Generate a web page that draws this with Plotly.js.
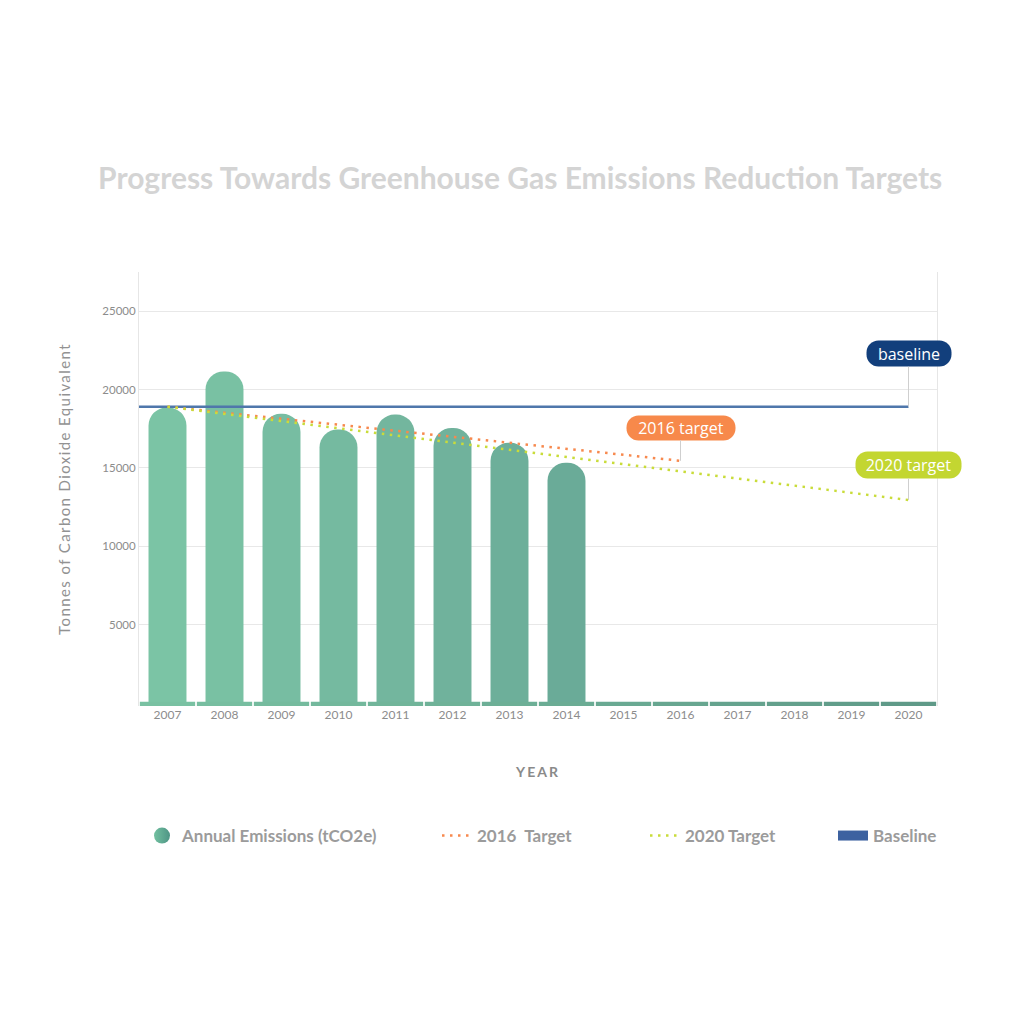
<!DOCTYPE html>
<html><head><meta charset="utf-8">
<script src="https://cdn.plot.ly/plotly-3.0.1.min.js"></script>
<style>
html,body{margin:0;padding:0;background:#fff;}
#chart{width:1024px;height:1013px;}
.ytitle{letter-spacing:1.4px;}
.xtitle{letter-spacing:2px;}
.annotation rect.bg{rx:12px;ry:12px;}
</style></head><body><div id="chart"></div>
<script>
// ---- data ----
const years = [2007,2008,2009,2010,2011,2012,2013,2014,2015,2016,2017,2018,2019,2020];
const emissionYears = [2007,2008,2009,2010,2011,2012,2013,2014];
const emissions = [18850,21150,18450,17450,18400,17550,16600,15330];
const baselineYears = [2006.5,2020];
const baselineValues = [18900,18900];
const target2016Years = [2007,2016];
const target2016Values = [18900,15450];
const target2020Years = [2007,2020];
const target2020Values = [18900,12950];
const stripHeights = [270,270,270,270,270,270,270,270,270,270,270,270,270,270];
const stripBase = -200;
const yTicks = [5000,10000,15000,20000,25000];

const barColors = ['#7bc4a5','#79c1a3','#77bda2','#75baa0','#73b69e','#70b29c','#6daf9a','#6aab98'];
const stripColors = ['#79c1a2','#77bea0','#75bb9e','#73b89c','#71b59a','#6fb298','#6daf96','#6bac94','#69a992','#67a690','#65a38e','#63a08c','#619d8a','#5f9a88'];

const dotDash = '2.5px,5.5px';

const traces = [
  {type:'bar', x:emissionYears, y:emissions, width:0.666,
   marker:{color:barColors, cornerradius:'50%'}, showlegend:false, hoverinfo:'skip'},
  {type:'bar', x:years, y:stripHeights, base:stripBase, width:0.97,
   marker:{color:stripColors}, showlegend:false, hoverinfo:'skip'},
  {type:'scatter', mode:'lines', x:baselineYears, y:baselineValues,
   line:{color:'#4f77ab', width:2.5}, showlegend:false, hoverinfo:'skip'},
  {type:'scatter', mode:'lines', x:target2016Years, y:target2016Values,
   line:{color:'#f7894e', width:2.5, dash:dotDash}, showlegend:false, hoverinfo:'skip'},
  {type:'scatter', mode:'lines', x:target2020Years, y:target2020Values,
   line:{color:'#c9dc3a', width:2.5, dash:dotDash}, showlegend:false, hoverinfo:'skip'},
  // legend entries
  {type:'scatter', mode:'markers', x:[null], y:[null], name:'Annual Emissions (tCO2e)', legend:'legend',
   marker:{symbol:'circle', size:22, color:'#72c0a0', gradient:{type:'horizontal', color:'#4e9585'}}},
  {type:'scatter', mode:'lines', x:[null], y:[null], name:'2016  Target', legend:'legend2',
   line:{color:'#f7894e', width:2.5, dash:dotDash}},
  {type:'scatter', mode:'lines', x:[null], y:[null], name:'2020 Target', legend:'legend3',
   line:{color:'#c9dc3a', width:2.5, dash:dotDash}},
  {type:'scatter', mode:'lines', x:[null], y:[null], name:'Baseline', legend:'legend4',
   line:{color:'#3d62a0', width:10}}
];

const legendBase = {xref:'container', yref:'container', y:1-836/1013, xanchor:'left', yanchor:'middle',
  orientation:'h', bgcolor:'rgba(0,0,0,0)', font:{family:'Lato, sans-serif', size:17, color:'#9b9b9b', weight:'bold'}};

const annFont = {family:'Open Sans, sans-serif', size:16, color:'#ffffff'};

const layout = {
  width:1024, height:1013,
  margin:{l:139, r:86.5, t:272, b:306.5, pad:0},
  paper_bgcolor:'#ffffff', plot_bgcolor:'#ffffff',
  font:{family:'Lato, sans-serif', color:'#8c8c8c'},
  barmode:'overlay',
  hovermode:false,
  title:{text:'Progress Towards Greenhouse Gas Emissions Reduction Targets',
    font:{family:'Lato, sans-serif', size:30, color:'#d4d4d4', weight:'bold'},
    xref:'container', yref:'container', x:0.508, y:1-178/1013, xanchor:'center', yanchor:'middle'},
  xaxis:{range:[2006.5,2020.5], tickvals:years, ticktext:years.map(String),
    showgrid:false, zeroline:false, showline:false, ticks:'',
    tickfont:{size:12, color:'#8c8c8c'},
    title:{text:'YEAR', font:{size:14, color:'#8a8a8a', weight:'bold'}, standoff:46}},
  yaxis:{range:[-200,27500], tickvals:yTicks, ticktext:yTicks.map(String),
    showgrid:true, gridcolor:'#e8e8e8', gridwidth:1, zeroline:false,
    showline:true, mirror:true, linecolor:'#e6e6e6', linewidth:1, ticks:'',
    tickfont:{size:11.5, color:'#8c8c8c'},
    title:{text:'Tonnes of Carbon Dioxide Equivalent', font:{size:15, color:'#929292'}, standoff:28}},
  legend:Object.assign({}, legendBase, {x:142/1024}),
  legend2:Object.assign({}, legendBase, {x:437/1024}),
  legend3:Object.assign({}, legendBase, {x:645/1024}),
  legend4:Object.assign({}, legendBase, {x:833/1024}),
  annotations:[
    {x:2020, y:18900, xref:'x', yref:'y', text:'baseline', showarrow:true, arrowhead:0, arrowwidth:1,
     arrowcolor:'#cfcfcf', ax:0, ay:-53, bgcolor:'#123f7c', font:annFont, width:80, height:21, borderpad:2},
    {x:2016, y:15450, xref:'x', yref:'y', text:'2016 target', showarrow:true, arrowhead:0, arrowwidth:1,
     arrowcolor:'#cfcfcf', ax:0, ay:-33, bgcolor:'#f7894b', font:annFont, width:104, height:20, borderpad:2},
    {x:2020, y:12950, xref:'x', yref:'y', text:'2020 target', showarrow:true, arrowhead:0, arrowwidth:1,
     arrowcolor:'#cfcfcf', ax:0, ay:-35, bgcolor:'#c3d631', font:annFont, width:101, height:22, borderpad:2}
  ]
};

Plotly.newPlot('chart', traces, layout, {displayModeBar:false, staticPlot:true});
</script></body></html>
